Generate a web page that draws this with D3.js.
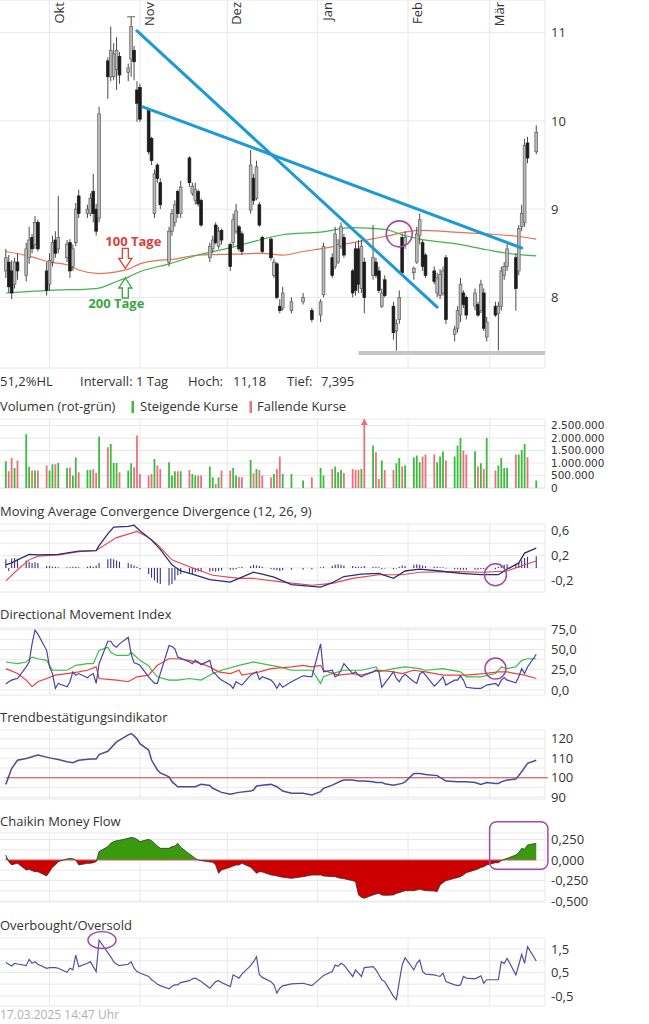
<!DOCTYPE html>
<html lang="de">
<head>
<meta charset="utf-8">
<title>Chart</title>
<script src="https://cdn.jsdelivr.net/npm/d3@7/dist/d3.min.js"></script>
<style>
html,body{margin:0;padding:0;background:#fff;}
svg{display:block;font-family:"Open Sans",sans-serif;}
</style>
</head>
<body>
<svg id="chart" width="649" height="1024"></svg>
<script>
// ================= DATA =================
const tradingDays = [
"09-16","09-17","09-18","09-19","09-20","09-23","09-24","09-25","09-26","09-27","09-30",
"10-01","10-02","10-03","10-04","10-07","10-08","10-09","10-10","10-11","10-14","10-15","10-16","10-17","10-18","10-21","10-22","10-23","10-24","10-25","10-28","10-29","10-30","10-31",
"11-01","11-04","11-05","11-06","11-07","11-08","11-11","11-12","11-13","11-14","11-15","11-18","11-19","11-20","11-21","11-22","11-25","11-26","11-27","11-28","11-29",
"12-02","12-03","12-04","12-05","12-06","12-09","12-10","12-11","12-12","12-13","12-16","12-17","12-18","12-19","12-20","12-23","12-27","12-30",
"01-02","01-03","01-06","01-07","01-08","01-09","01-10","01-13","01-14","01-15","01-16","01-17","01-20","01-21","01-22","01-23","01-24","01-27","01-28","01-29","01-30","01-31",
"02-03","02-04","02-05","02-06","02-07","02-10","02-11","02-12","02-13","02-14","02-17","02-18","02-19","02-20","02-21","02-24","02-25","02-26","02-27","02-28",
"03-03","03-04","03-05","03-06","03-07","03-10","03-11","03-12","03-13","03-14","03-17"];

const openP = [
8.30,8.40,8.30,8.15,8.40,8.25,8.45,8.68,8.60,8.85,8.30,
8.15,8.40,8.65,8.55,8.45,8.62,8.35,8.62,9.15,8.95,8.95,9.20,9.00,8.90,10.68,10.50,10.50,10.58,10.73,10.55,10.70,10.80,10.35,
10.38,10.12,9.80,8.95,9.50,9.30,8.40,8.75,8.85,9.20,8.95,9.58,9.18,9.10,9.20,9.10,8.45,8.55,8.82,8.58,8.76,
8.60,8.62,8.75,8.80,8.72,8.99,9.35,9.12,9.05,8.68,8.66,8.25,8.38,7.90,7.88,7.85,7.95,7.85,
7.80,8.03,8.45,8.35,8.40,8.58,8.68,8.30,8.55,8.55,8.10,8.40,8.25,8.40,8.30,7.90,8.20,7.90,7.62,7.75,8.68,8.60,
8.28,8.40,8.70,8.62,8.48,8.30,8.05,8.02,8.05,8.45,7.58,7.65,7.80,8.05,8.00,7.90,7.92,7.85,8.05,7.55,
7.90,7.82,7.90,8.25,8.35,8.45,8.30,8.80,8.85,9.75,9.65];
const highP = [
8.55,8.48,8.42,8.45,8.50,8.62,8.80,8.72,8.92,8.88,8.40,
8.50,8.70,8.75,9.15,8.65,8.66,8.60,9.07,9.22,9.05,9.18,9.40,9.06,10.16,10.72,11.07,10.88,10.95,10.78,10.65,11.18,10.85,10.45,
10.42,10.14,9.82,9.45,9.52,9.35,8.80,9.00,9.10,9.22,9.32,9.60,9.30,9.30,9.22,9.12,8.62,8.70,8.85,8.80,8.78,
8.62,8.95,9.06,8.82,8.75,9.67,9.40,9.55,9.08,8.70,8.68,8.44,8.40,7.98,8.12,8.00,8.05,7.88,
7.98,8.62,8.50,8.80,8.66,8.85,8.72,8.32,8.62,8.65,8.65,8.45,8.82,8.45,8.35,8.10,8.25,7.95,7.75,8.08,8.72,8.75,
8.35,8.80,8.95,8.65,8.50,8.35,8.28,8.32,8.35,8.48,7.68,7.90,8.22,8.08,8.02,8.10,7.95,8.20,8.10,7.78,
7.95,7.95,8.35,8.40,8.62,8.50,8.82,9.05,9.80,9.82,9.95];
const lowP = [
8.22,8.05,7.98,8.10,8.20,8.18,8.38,8.50,8.55,8.52,8.02,
8.08,8.35,8.45,8.50,8.40,8.22,8.30,8.58,8.90,8.90,8.92,8.85,8.70,8.85,10.25,10.45,10.46,10.35,10.42,10.45,10.50,10.46,9.99,
9.99,9.62,9.50,8.90,9.30,9.00,8.35,8.70,8.80,8.90,8.90,9.25,9.15,9.05,9.03,8.80,8.40,8.50,8.60,8.55,8.60,
8.30,8.58,8.72,8.52,8.48,8.95,9.05,9.10,8.80,8.50,8.42,8.22,7.98,7.82,7.85,7.82,7.92,7.72,
7.72,8.00,8.22,8.32,8.38,8.55,8.45,8.00,8.02,8.05,8.05,7.82,8.20,8.22,8.05,7.88,8.00,7.52,7.395,7.70,8.25,8.55,
8.20,8.38,8.60,8.30,8.22,8.15,8.00,7.98,8.02,7.70,7.50,7.60,7.72,7.88,7.75,7.85,7.78,7.82,7.62,7.50,
7.78,7.40,7.85,8.20,8.30,7.85,8.25,8.75,8.80,9.52,9.62];
const closeP = [
8.45,8.12,8.05,8.40,8.30,8.55,8.65,8.55,8.85,8.55,8.08,
8.42,8.62,8.50,8.68,8.60,8.30,8.55,9.00,8.95,9.00,9.12,8.95,8.75,10.08,10.50,10.80,10.76,10.80,10.52,10.60,11.07,10.67,10.20,
10.02,9.65,9.55,9.40,9.35,9.05,8.75,8.95,9.05,8.95,9.25,9.30,9.26,9.22,9.06,8.82,8.58,8.65,8.62,8.75,8.65,
8.35,8.88,8.98,8.55,8.52,9.50,9.10,9.48,8.82,8.52,8.45,8.40,8.00,7.85,8.05,7.95,8.00,7.75,
7.95,8.58,8.25,8.72,8.60,8.80,8.48,8.05,8.08,8.15,8.58,8.00,8.45,8.25,8.08,8.05,8.02,7.60,7.70,8.00,8.28,8.68,
8.33,8.72,8.88,8.35,8.25,8.18,8.22,8.26,8.30,7.75,7.64,7.85,8.15,7.92,7.80,8.05,7.80,8.15,7.65,7.72,
7.80,7.90,8.30,8.35,8.55,8.10,8.78,8.95,9.72,9.58,9.87];

// volume in thousand shares
const volumeK = [
1070,670,1200,800,1100,2150,850,700,700,700,900,
700,950,950,1000,800,820,500,1220,630,720,720,750,600,2050,1630,1760,1000,1000,630,700,990,830,2100,
560,500,560,1160,900,760,1030,500,670,670,670,720,560,500,500,500,860,430,160,430,700,
700,800,500,430,430,1120,590,760,720,500,430,560,760,1260,560,560,300,430,
800,500,760,860,630,720,600,760,720,720,760,2900,1700,1430,360,1100,720,720,990,1200,860,900,
1220,1300,1030,1260,1340,1340,1030,1260,1460,1100,1260,1700,2000,1500,1340,1470,860,990,760,2000,
700,900,1200,800,800,1340,1340,1520,1760,1230,300];

// moving averages (date, price)
const ma100 = [["09-16",8.52],["09-25",8.46],["10-01",8.40],["10-07",8.37],["10-11",8.31],["10-18",8.27],["10-24",8.29],["10-28",8.32],["11-01",8.38],["11-07",8.42],["11-12",8.43],["11-21",8.48],["12-03",8.49],["12-13",8.50],["12-20",8.48],["12-27",8.52],["01-02",8.55],["01-13",8.62],["01-24",8.69],["02-05",8.76],["02-17",8.74],["02-28",8.72],["03-11",8.69],["03-17",8.66]];
const ma200 = [["09-16",8.05],["10-01",8.08],["10-17",8.10],["10-24",8.18],["10-28",8.23],["11-01",8.29],["11-11",8.38],["11-21",8.48],["12-03",8.57],["12-12",8.65],["12-20",8.71],["01-02",8.74],["01-13",8.79],["01-24",8.77],["01-30",8.71],["02-05",8.66],["02-17",8.61],["02-28",8.54],["03-07",8.50],["03-17",8.47]];

// drawn trend lines, support line, annotations (date, price)
const trendLines = [[["10-31",11.02],["02-11",7.89]],[["11-02",10.16],["03-12",8.56]]];
const supportLine = [["01-15",7.37],["03-20",7.37]];
const priceCircle = ["01-29",8.72];
const maNotes = [
  {label:"100 Tage", date:"10-27", value:8.33, dir:"down", color:"#d8423a"},
  {label:"200 Tage", date:"10-27", value:8.22, dir:"up", color:"#3aa443"}];

// MACD
const macdLine = [["09-16",0.05],["09-18",0.08],["09-20",0.13],["09-24",0.22],["09-27",0.21],["10-04",0.22],["10-11",0.27],["10-17",0.28],["10-18",0.36],["10-21",0.55],["10-23",0.66],["10-28",0.67],["10-30",0.69],["11-01",0.60],["11-05",0.45],["11-08",0.30],["11-12",0.05],["11-15",-0.05],["11-19",-0.10],["11-25",-0.19],["12-02",-0.23],["12-06",-0.15],["12-10",-0.07],["12-13",-0.10],["12-17",-0.15],["12-23",-0.27],["12-30",-0.30],["01-02",-0.31],["01-06",-0.24],["01-10",-0.14],["01-16",-0.10],["01-22",-0.09],["01-27",-0.17],["01-31",-0.05],["02-05",-0.02],["02-12",-0.05],["02-19",-0.09],["02-26",-0.11],["03-04",-0.11],["03-07",-0.02],["03-11",0.08],["03-13",0.24],["03-17",0.32]];
const signalLine = [["09-16",-0.21],["09-20",-0.03],["09-24",0.13],["09-27",0.19],["10-04",0.21],["10-11",0.26],["10-17",0.28],["10-24",0.49],["10-31",0.59],["11-04",0.49],["11-07",0.38],["11-12",0.13],["11-18",0.02],["11-26",-0.12],["12-05",-0.17],["12-10",-0.17],["12-20",-0.23],["12-30",-0.28],["01-06",-0.25],["01-13",-0.17],["01-22",-0.11],["01-30",-0.11],["02-05",-0.07],["02-17",-0.06],["02-27",-0.07],["03-07",-0.05],["03-13",0.05],["03-17",0.11]];
const macdHist = [
0.14,-0.05,0.15,0.16,0.14,0.12,0.10,0.08,0.09,0.08,0.03,
0.03,0.02,0.02,0.01,0.01,0.01,0.02,0.02,0.01,0.02,0.03,0.02,0.04,0.08,0.14,0.15,0.14,0.12,0.10,0.08,0.06,0.04,0.02,
-0.02,-0.10,-0.16,-0.20,-0.24,-0.26,-0.28,-0.26,-0.20,-0.12,-0.10,-0.08,-0.10,-0.07,-0.06,-0.06,-0.06,-0.05,-0.06,-0.05,-0.04,
-0.03,-0.03,-0.02,0.01,0.02,0.03,0.05,0.04,0.03,0.02,-0.02,-0.03,-0.04,-0.05,-0.04,-0.03,-0.03,-0.02,
0.01,0.02,0.03,0.05,0.06,0.05,0.04,0.03,0.02,0.02,0.02,0.03,0.02,0.02,0.01,-0.02,-0.01,-0.02,-0.01,0.02,0.04,0.03,
0.05,0.06,0.05,0.04,0.03,0.02,0.02,0.01,0.01,-0.01,-0.02,-0.02,-0.03,-0.03,-0.03,-0.03,-0.03,-0.02,-0.02,-0.02,
-0.02,0.02,0.04,0.05,0.06,0.05,0.08,0.12,0.16,0.18,0.19];
const macdCircle = ["03-03",-0.11];

// Directional Movement Index
const dmiBlue = [
7.3,10.2,12.2,13.4,14.2,28.5,34.6,57,74,69,49,
28.5,20.3,2,8.1,4,10.2,22.4,18.3,20.3,15,18.3,20.3,8.1,32.5,60.2,60.2,54.9,52.8,57,65,44.7,33.7,32.5,
30.5,16.3,12.2,8.1,8.1,20.3,54.9,53.7,50.8,40.7,39.4,34.6,32.5,36.6,34.6,31.3,36.6,22.4,19.5,15.4,12.2,
6.1,2,10.2,8.1,6.1,18.3,20.3,22.4,13,16.3,12.2,8.1,2,8.1,3.3,10.2,17.5,16.3,
57,22.4,24.4,16.3,18.3,24.4,32.5,20.3,22.4,18.3,16.3,18.3,22.4,24.4,22.4,3.3,8.1,22.4,14.2,10.2,16.3,19.5,
10.2,8.1,19.5,22.4,18.3,4.9,8.1,12.2,16.3,6.1,12.2,12.2,17.5,12.2,3.3,2,2,2,4,6.1,
8.1,4.9,12.2,15.4,12.2,8.9,16.3,26.4,20.3,28.5,44];
const dmiGreen = [["09-16",34.6],["09-20",32.5],["09-23",34.6],["09-25",40.7],["09-27",38.6],["09-30",36.6],["10-02",24.4],["10-07",24.4],["10-10",30.5],["10-14",32.5],["10-16",32.5],["10-18",48.8],["10-21",52.8],["10-22",46.7],["10-24",42.7],["10-28",42.7],["10-29",46.7],["11-01",36.6],["11-04",30],["11-05",24.4],["11-07",16.3],["11-11",12.2],["11-14",12.2],["11-18",14.2],["11-22",12.2],["11-26",20.3],["11-29",24.4],["12-05",30.5],["12-10",34.6],["12-16",30.5],["12-19",28.5],["12-23",24.4],["12-30",24.4],["01-02",8.1],["01-03",16.3],["01-06",20.3],["01-10",24.4],["01-16",24.4],["01-21",28.5],["01-22",22.4],["01-27",26.4],["01-31",28.5],["02-05",26.4],["02-07",24.4],["02-13",26.4],["02-19",22.4],["02-21",16.3],["02-26",16.3],["03-03",20.3],["03-05",28.5],["03-07",26.4],["03-10",28.5],["03-12",36.6],["03-14",38.6],["03-17",38.6]];
const dmiRed = [["09-16",26.4],["09-20",20.3],["09-23",12.2],["09-25",4],["09-27",10.2],["09-30",14.2],["10-03",18.3],["10-07",20.3],["10-11",22.4],["10-14",24.4],["10-17",28.5],["10-18",14.2],["10-24",12.2],["10-28",10.2],["10-31",16.3],["11-04",18.3],["11-07",30.5],["11-11",38.6],["11-14",38.6],["11-18",36.6],["11-22",32.5],["11-25",28.5],["11-28",22.4],["12-02",20.3],["12-05",24.4],["12-06",18.3],["12-12",22.4],["12-16",26.4],["12-23",28.5],["12-27",30.5],["12-30",28.5],["01-02",30.5],["01-03",24.4],["01-08",18.3],["01-13",20.3],["01-16",18.3],["01-22",24.4],["01-27",22.4],["01-30",20.3],["02-03",24.4],["02-07",22.4],["02-13",18.3],["02-18",18.3],["02-21",18.3],["02-27",20.3],["03-04",22.4],["03-07",22.4],["03-10",20.3],["03-13",18.3],["03-17",14.2]];
const dmiCircle = ["03-03",26.5];

// Trendbestätigungsindikator
const trendInd = [["09-16",96.6],["09-18",104.7],["09-20",109.0],["09-23",109.9],["09-27",111.6],["10-01",110.2],["10-04",109.4],["10-07",108.2],["10-09",107.7],["10-11",109.0],["10-15",109.6],["10-17",109.6],["10-18",111.9],["10-21",113.6],["10-24",118.4],["10-28",122.0],["10-29",122.7],["10-30",121.5],["10-31",120.0],["11-01",117.5],["11-04",114.2],["11-05",109.1],["11-07",104.0],["11-08",102.5],["11-11",100.5],["11-12",98.0],["11-14",95.4],["11-18",95.4],["11-20",95.4],["11-22",96.6],["11-25",96.0],["11-26",94.6],["11-29",92.5],["12-02",91.5],["12-05",92.5],["12-09",93.2],["12-10",93.7],["12-11",95.8],["12-13",96.2],["12-16",96.6],["12-18",95.4],["12-20",93.2],["12-23",92.0],["12-27",92.0],["12-30",91.2],["01-02",92.9],["01-03",94.6],["01-06",96.2],["01-09",98.3],["01-10",98.8],["01-13",98.8],["01-15",98.3],["01-17",98.3],["01-20",97.9],["01-21",97.6],["01-23",97.6],["01-24",96.9],["01-27",96.2],["01-30",97.1],["01-31",97.9],["02-03",102.2],["02-05",102.2],["02-07",101.7],["02-11",101.1],["02-13",99.3],["02-14",98.3],["02-18",97.9],["02-21",97.9],["02-24",97.6],["02-26",96.6],["02-28",97.6],["03-03",97.1],["03-04",97.1],["03-05",97.9],["03-07",98.8],["03-10",99.3],["03-12",103.1],["03-14",107.4],["03-17",109.0]];
const trendRef = 100;

// Chaikin Money Flow
const cmf = [
0.061,-0.020,-0.061,-0.049,-0.041,-0.122,-0.114,-0.130,-0.142,-0.142,-0.195,
-0.142,-0.089,-0.061,-0.020,0.012,0.020,0.016,0,-0.061,-0.041,-0.041,-0.033,-0.020,0.102,0.163,0.203,0.224,0.236,0.240,0.264,0.276,0.268,0.252,
0.224,0.252,0.236,0.203,0.171,0.142,0.142,0.163,0.171,0.203,0.155,0.073,0.049,0.020,0,-0.008,-0.024,-0.028,-0.061,-0.163,-0.122,
-0.089,-0.073,-0.061,-0.061,-0.041,-0.089,-0.122,-0.163,-0.142,-0.146,-0.183,-0.187,-0.195,-0.203,-0.211,-0.224,-0.203,-0.183,
-0.183,-0.195,-0.203,-0.203,-0.215,-0.224,-0.228,-0.252,-0.264,-0.427,-0.455,-0.467,-0.427,-0.415,-0.407,-0.427,-0.431,-0.427,-0.407,-0.398,-0.386,-0.374,
-0.374,-0.366,-0.358,-0.366,-0.374,-0.378,-0.386,-0.305,-0.276,-0.252,-0.224,-0.215,-0.203,-0.183,-0.154,-0.122,-0.110,-0.093,-0.081,-0.061,
-0.033,-0.033,-0.008,0.008,0.020,0.061,0.089,0.142,0.130,0.183,0.203];
const cmfBox = [["03-01",0.467],["03-21",-0.113]];

// Overbought/Oversold
const obos = [
0.93,0.85,0.78,0.89,0.86,0.79,1.06,0.89,0.96,0.85,0.68,
0.71,0.71,0.71,0.68,0.51,0.68,0.61,1.24,0.75,0.89,0.96,0.75,0.54,1.88,1.35,1.17,0.96,0.85,0.79,0.85,0.96,0.68,0.54,
0.48,0.33,0.19,0.11,0,-0.06,-0.20,-0.09,-0.03,-0.03,0.07,0.15,0.23,0.26,0.19,0.11,-0.17,-0.03,0.11,0.15,0.07,
-0.10,0.40,0.33,0.26,0.43,0.79,0.96,1.17,0.40,0.29,0.11,-0.03,-0.38,-0.17,-0.07,0.01,0.04,-0.06,
0.26,0.37,0.54,0.82,0.76,0.89,0.82,0.33,0.61,0.47,0.33,0.71,0.75,0.61,0.40,0.19,0.11,-0.52,-0.66,0.11,0.82,1.13,
0.61,0.89,1.03,0.54,0.43,0.40,0.36,0.33,0.47,0.11,-0.03,-0.06,-0.03,0.33,0.26,0.23,0.29,0.36,0.04,0.19,
0.19,0.19,0.96,0.89,1.10,0.40,0.82,1.27,0.89,1.60,0.99];
const obosEllipse = ["10-19",1.88];

// axis ticks / labels
const monthTicks = ["10-01","11-01","12-01","01-01","02-01","03-01"];
const monthLabels = ["Okt","Nov","Dez","Jan","Feb","Mär"];
const priceTicks = [8,9,10,11];
const volumeTicks = [0,500,1000,1500,2000,2500];
const macdTicks = [0.6,0.2,-0.2];
const dmiTicks = [75,50,25,0];
const trendTicks = [120,110,100,90];
const cmfTicks = [0.25,0,-0.25,-0.5];
const obosTicks = [1.5,0.5,-0.5];

// ================= RENDER =================
const parseMD = s => { const [m, d] = s.split("-").map(Number); return new Date(m >= 9 ? 2024 : 2025, m - 1, d); };
const de = d3.formatLocale({decimal: ",", thousands: ".", grouping: [3], currency: ["", " €"], minus: "-"});
const svg = d3.select("#chart");
const W = 545;
const FONT = '"Open Sans", sans-serif';
const GRID = "#e8e8e8";
const x = d3.scaleTime().domain([new Date(2024, 8, 14), new Date(2025, 2, 20)]).range([0, W]);
const days = tradingDays.map(parseMD);
const months = monthTicks.map(parseMD);
const P = arr => arr.map(([d, v]) => [parseMD(d), v]);
const perDay = arr => arr.map((v, i) => [days[i], v]);

function panel(top, bottom, domain, gridVals, tickVals, fmt, tickFont) {
  const y = d3.scaleLinear().domain(domain).range([bottom, top]);
  const g = svg.append("g");
  g.append("g").selectAll("line").data(gridVals).join("line")
    .attr("x1", 0).attr("x2", W).attr("y1", d => y(d)).attr("y2", d => y(d))
    .attr("stroke", GRID).attr("stroke-width", 1);
  g.append("g").selectAll("line").data([top, bottom]).join("line")
    .attr("x1", 0).attr("x2", W).attr("y1", d => d).attr("y2", d => d)
    .attr("stroke", GRID).attr("stroke-width", 1);
  g.append("g").selectAll("line").data(months).join("line")
    .attr("x1", d => x(d)).attr("x2", d => x(d)).attr("y1", top).attr("y2", bottom)
    .attr("stroke", GRID).attr("stroke-width", 1);
  g.append("line").attr("x1", W).attr("x2", W).attr("y1", top).attr("y2", bottom)
    .attr("stroke", GRID).attr("stroke-width", 1);
  const ax = svg.append("g").attr("transform", `translate(${W},0)`)
    .call(d3.axisRight(y).tickValues(tickVals).tickSize(0).tickPadding(6).tickFormat(fmt));
  ax.select(".domain").remove();
  const tf = tickFont || {family: FONT, size: 13};
  ax.attr("font-family", tf.family).attr("font-size", tf.size);
  ax.selectAll("text").attr("fill", "#333");
  return y;
}

function label(txt, xx, yy, opts = {}) {
  return svg.append("text").attr("x", xx).attr("y", yy).text(txt)
    .attr("font-family", FONT).attr("font-size", opts.size || 13)
    .attr("fill", opts.fill || "#333").attr("font-weight", opts.weight || "normal")
    .attr("text-anchor", opts.anchor || "start");
}

// ---------- price panel ----------
const yP = panel(0, 368, [7.2, 11.37], priceTicks, priceTicks, d3.format("d"));

svg.append("g").selectAll("text").data(months).join("text")
  .attr("transform", d => `translate(${x(d) + 14},2) rotate(-90)`)
  .attr("text-anchor", "end").attr("font-family", FONT).attr("font-size", 13).attr("fill", "#333")
  .text((d, i) => monthLabels[i]);

// support line
svg.append("line")
  .attr("x1", x(parseMD(supportLine[0][0]))).attr("x2", x(parseMD(supportLine[1][0])))
  .attr("y1", yP(supportLine[0][1])).attr("y2", yP(supportLine[1][1]))
  .attr("stroke", "#c6c6c6").attr("stroke-width", 4);

// moving averages
const lineP = d3.line().x(d => x(d[0])).y(d => yP(d[1])).curve(d3.curveMonotoneX);
svg.append("path").attr("d", lineP(P(ma100))).attr("fill", "none").attr("stroke", "#e7704e").attr("stroke-width", 1.2);
svg.append("path").attr("d", lineP(P(ma200))).attr("fill", "none").attr("stroke", "#3fb449").attr("stroke-width", 1.2);

// candles
const idx = d3.range(days.length);
const cg = svg.append("g");
cg.selectAll("line").data(idx).join("line")
  .attr("x1", i => x(days[i])).attr("x2", i => x(days[i]))
  .attr("y1", i => yP(highP[i])).attr("y2", i => yP(lowP[i]))
  .attr("stroke", "#4a4a4a").attr("stroke-width", 1);
cg.selectAll("rect").data(idx).join("rect")
  .attr("x", i => x(days[i]) - 1.4).attr("width", 2.8)
  .attr("y", i => yP(Math.max(openP[i], closeP[i])))
  .attr("height", i => Math.max(1, Math.abs(yP(openP[i]) - yP(closeP[i]))))
  .attr("fill", i => closeP[i] >= openP[i] ? "#b9b9b9" : "#1c1c1c")
  .attr("stroke", i => closeP[i] >= openP[i] ? "#5e5e5e" : "#1c1c1c")
  .attr("stroke-width", 0.7);
// marker at highest high
const hi = d3.maxIndex(highP);
svg.append("line").attr("x1", x(days[hi]) - 4).attr("x2", x(days[hi]) + 4)
  .attr("y1", yP(highP[hi])).attr("y2", yP(highP[hi])).attr("stroke", "#666").attr("stroke-width", 1);

// blue trend lines
svg.append("g").selectAll("line").data(trendLines).join("line")
  .attr("x1", d => x(parseMD(d[0][0]))).attr("y1", d => yP(d[0][1]))
  .attr("x2", d => x(parseMD(d[1][0]))).attr("y2", d => yP(d[1][1]))
  .attr("stroke", "#1c9ad6").attr("stroke-width", 3).attr("stroke-linecap", "round");

// MA annotations
maNotes.forEach(n => {
  const tx = x(parseMD(n.date)), ty = yP(n.value);
  const s = n.dir === "down" ? -1 : 1;
  const pts = [[-3, 20], [3, 20], [3, 10], [6.5, 10], [0, 0], [-6.5, 10], [-3, 10]]
    .map(([a, b]) => [tx + a, ty + s * b]);
  svg.append("path").attr("d", "M" + pts.map(p => p.join(",")).join("L") + "Z")
    .attr("fill", "#fff").attr("stroke", n.color).attr("stroke-width", 1.3);
  if (n.dir === "down") label(n.label, tx + 8, ty - 22, {fill: n.color, weight: "bold", anchor: "middle"});
  else label(n.label, tx - 9, ty + 30, {fill: n.color, weight: "bold", anchor: "middle"});
});

// purple circle on price
svg.append("circle").attr("cx", x(parseMD(priceCircle[0]))).attr("cy", yP(priceCircle[1])).attr("r", 13)
  .attr("fill", "none").attr("stroke", "#a34aa6").attr("stroke-width", 1.6);

// info line
label("51,2%HL", 0, 386);
label("Intervall: 1 Tag", 80, 386);
label("Hoch:", 188, 386);
label("11,18", 233, 386);
label("Tief:", 287, 386);
label("7,395", 321, 386);

// ---------- volume ----------
label("Volumen (rot-grün)", 0, 411);
svg.append("rect").attr("x", 131.5).attr("y", 401).attr("width", 2.5).attr("height", 12).attr("fill", "#3dbb3d");
label("Steigende Kurse", 140, 411);
svg.append("rect").attr("x", 249.5).attr("y", 401).attr("width", 2.5).attr("height", 12).attr("fill", "#e5737d");
label("Fallende Kurse", 257, 411);

const vMax = 2760;
const yV = panel(419, 488, [0, vMax], volumeTicks, volumeTicks, v => de.format(",")(v * 1000),
  {family: '"DejaVu Sans", sans-serif', size: 10.5});
const vg = svg.append("g");
vg.selectAll("line").data(idx).join("line")
  .attr("x1", i => x(days[i])).attr("x2", i => x(days[i]))
  .attr("y1", yV(0)).attr("y2", i => yV(Math.min(volumeK[i], vMax)))
  .attr("stroke", i => closeP[i] >= openP[i] ? "#3dbb3d" : "#e5737d").attr("stroke-width", 1.8);
vg.selectAll("path").data(idx.filter(i => volumeK[i] > vMax)).join("path")
  .attr("d", i => { const cx = x(days[i]), t = yV(vMax); return `M${cx - 3.5},${t + 6}L${cx},${t}L${cx + 3.5},${t + 6}Z`; })
  .attr("fill", i => closeP[i] >= openP[i] ? "#3dbb3d" : "#e5737d");

// ---------- MACD ----------
label("Moving Average Convergence Divergence (12, 26, 9)", 0, 516);
const yM = panel(524, 592, [-0.39, 0.71], [0.6, 0.4, 0.2, 0, -0.2], macdTicks, de.format(".1f"));
svg.append("g").selectAll("line").data(idx).join("line")
  .attr("x1", i => x(days[i])).attr("x2", i => x(days[i]))
  .attr("y1", yM(0)).attr("y2", i => yM(macdHist[i]))
  .attr("stroke", "#33338a").attr("stroke-width", 1.1);
const lineM = d3.line().x(d => x(d[0])).y(d => yM(d[1]));
svg.append("path").attr("d", lineM(P(signalLine))).attr("fill", "none").attr("stroke", "#e2484a").attr("stroke-width", 1.1);
svg.append("path").attr("d", lineM(P(macdLine))).attr("fill", "none").attr("stroke", "#2c2c78").attr("stroke-width", 1.3);
svg.append("circle").attr("cx", x(parseMD(macdCircle[0]))).attr("cy", yM(macdCircle[1])).attr("r", 11)
  .attr("fill", "none").attr("stroke", "#a34aa6").attr("stroke-width", 1.5);

// ---------- DMI ----------
label("Directional Movement Index", 0, 619);
const yD = panel(628, 695, [-6.2, 76.6], [75, 62.5, 50, 37.5, 25, 12.5, 0], dmiTicks, de.format(".1f"));
const lineD = d3.line().x(d => x(d[0])).y(d => yD(d[1]));
svg.append("path").attr("d", lineD(P(dmiGreen))).attr("fill", "none").attr("stroke", "#3cbf45").attr("stroke-width", 1.2);
svg.append("path").attr("d", lineD(P(dmiRed))).attr("fill", "none").attr("stroke", "#e8423f").attr("stroke-width", 1.2);
svg.append("path").attr("d", lineD(perDay(dmiBlue))).attr("fill", "none").attr("stroke", "#4646a0").attr("stroke-width", 1.2);
svg.append("circle").attr("cx", x(parseMD(dmiCircle[0]))).attr("cy", yD(dmiCircle[1])).attr("r", 10.5)
  .attr("fill", "none").attr("stroke", "#a34aa6").attr("stroke-width", 1.5);

// ---------- Trend ----------
label("Trendbestätigungsindikator", 0, 722);
const yT = panel(730, 799, [89.1, 124.5], [90, 95, 100, 105, 110, 115, 120], trendTicks, de.format("d"));
svg.append("line").attr("x1", x(days[0])).attr("x2", W + 3).attr("y1", yT(trendRef)).attr("y2", yT(trendRef))
  .attr("stroke", "#d24848").attr("stroke-width", 1);
svg.append("path").attr("d", d3.line().x(d => x(d[0])).y(d => yT(d[1]))(P(trendInd)))
  .attr("fill", "none").attr("stroke", "#4c4c94").attr("stroke-width", 1.5);

// ---------- Chaikin ----------
label("Chaikin Money Flow", 0, 826);
const yC = panel(833, 902, [-0.512, 0.329], [0.25, 0.125, 0, -0.125, -0.25, -0.375, -0.5], cmfTicks, de.format(".3f"));
const defs = svg.append("defs");
defs.append("clipPath").attr("id", "cmfPos").append("rect").attr("x", 0).attr("y", 820).attr("width", W).attr("height", yC(0) - 820);
defs.append("clipPath").attr("id", "cmfNeg").append("rect").attr("x", 0).attr("y", yC(0)).attr("width", W).attr("height", 910 - yC(0));
const areaC = d3.area().x(d => x(d[0])).y0(yC(0)).y1(d => yC(d[1]));
svg.append("path").attr("d", areaC(perDay(cmf))).attr("fill", "#3a9a0e").attr("clip-path", "url(#cmfPos)");
svg.append("path").attr("d", areaC(perDay(cmf))).attr("fill", "#cc0000").attr("clip-path", "url(#cmfNeg)");
svg.append("line").attr("x1", x(days[0])).attr("x2", x(days[days.length - 1])).attr("y1", yC(0)).attr("y2", yC(0))
  .attr("stroke", "#e05a5a").attr("stroke-width", 1);
svg.append("path").attr("d", d3.line().x(d => x(d[0])).y(d => yC(d[1]))(perDay(cmf)))
  .attr("fill", "none").attr("stroke", "#333").attr("stroke-width", 0.8);
{
  const x0 = x(parseMD(cmfBox[0][0])), x1 = x(parseMD(cmfBox[1][0]));
  const y0 = yC(cmfBox[0][1]), y1 = yC(cmfBox[1][1]);
  svg.append("rect").attr("x", x0).attr("y", y0).attr("width", x1 - x0).attr("height", y1 - y0)
    .attr("rx", 7).attr("fill", "none").attr("stroke", "#a34aa6").attr("stroke-width", 1.5);
}

// ---------- Overbought/Oversold ----------
label("Overbought/Oversold", 0, 930);
const yO = panel(938, 1006, [-0.93, 1.97], [1.5, 1, 0.5, 0, -0.5], obosTicks, de.format(".1f"));
svg.append("path").attr("d", d3.line().x(d => x(d[0])).y(d => yO(d[1]))(perDay(obos)))
  .attr("fill", "none").attr("stroke", "#5151a2").attr("stroke-width", 1.2);
svg.append("ellipse").attr("cx", x(parseMD(obosEllipse[0]))).attr("cy", yO(obosEllipse[1])).attr("rx", 14).attr("ry", 8.5)
  .attr("fill", "none").attr("stroke", "#a34aa6").attr("stroke-width", 1.5);

label("17.03.2025 14:47 Uhr", 0, 1019, {fill: "#b0b0b0", size: 12});
</script>
</body>
</html>
